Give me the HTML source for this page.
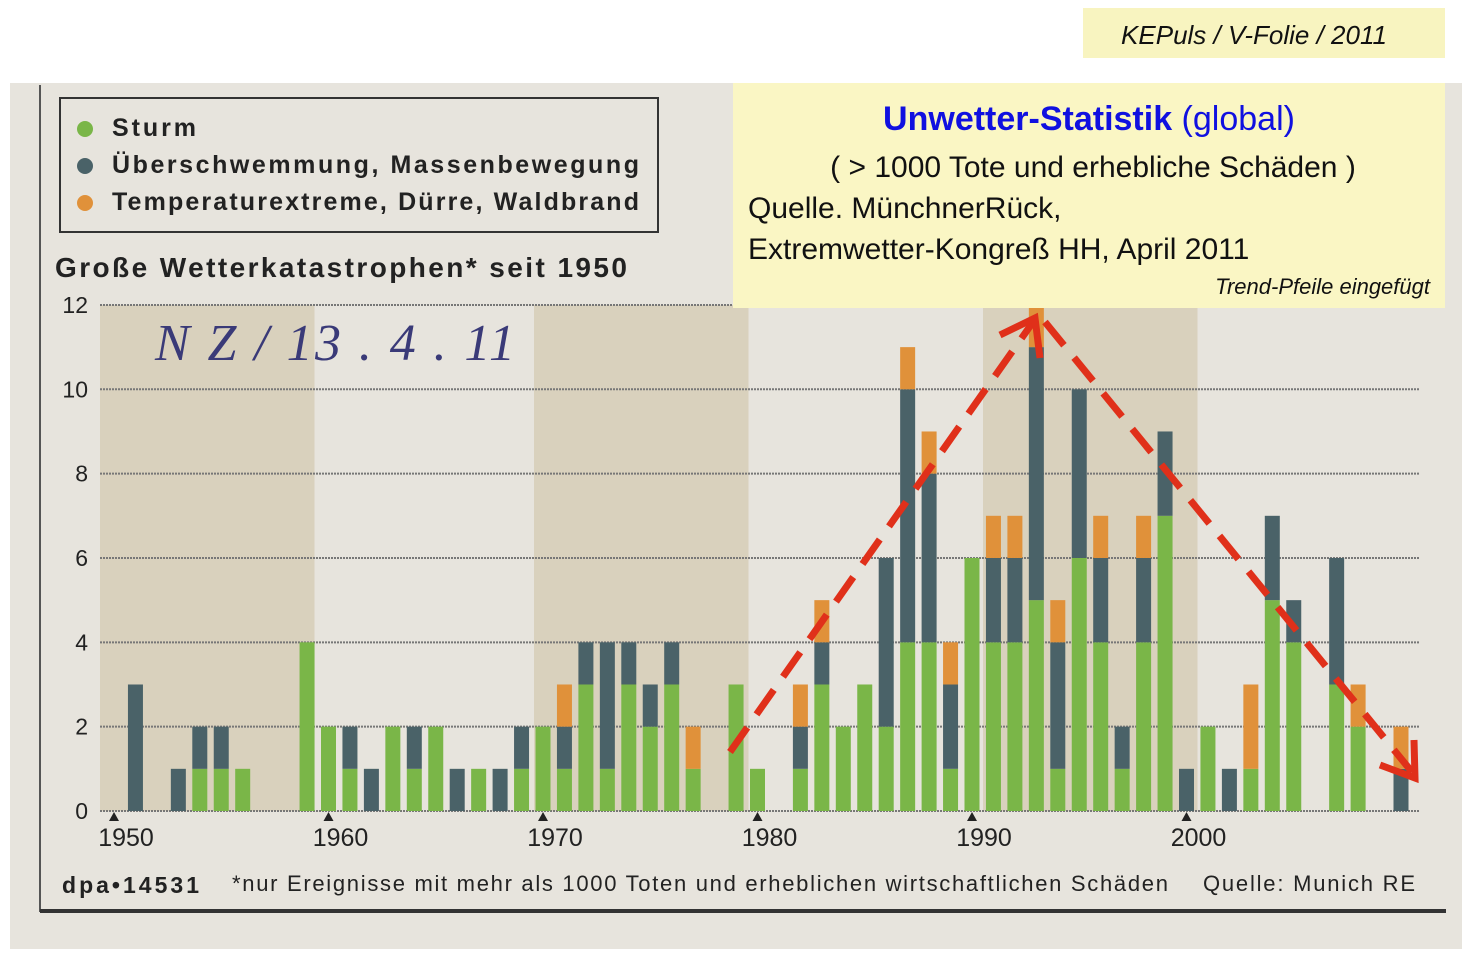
<!DOCTYPE html>
<html><head><meta charset="utf-8"><style>
body{margin:0;width:1467px;height:961px;background:#fff;overflow:hidden;font-family:"Liberation Sans",sans-serif;position:relative}
.abs{position:absolute}
</style></head><body>
<div class="abs" style="left:1083px;top:8px;width:362px;height:50px;background:#f8f4c0;font-style:italic;font-size:26px;line-height:54px;text-align:center;color:#111;text-indent:-20px">KEPuls / V-Folie / 2011</div>
<svg class="abs" style="left:0;top:0" width="1467" height="961">
<rect x="10" y="83" width="1452" height="866" fill="#e7e4dd"/>
<g id="bands"></g>
<g id="grid"></g>
<line x1="40" y1="85" x2="40" y2="912" stroke="#555" stroke-width="2"/>
<line x1="40" y1="911" x2="1446" y2="911" stroke="#333" stroke-width="4"/>
<g>
<rect x="60" y="98" width="598" height="134" fill="none" stroke="#333" stroke-width="2"/>
<circle cx="85" cy="129" r="8" fill="#7ab648"/><text x="112" y="136" font-size="25" fill="#222" font-weight="bold" textLength="84">Sturm</text>
<circle cx="85" cy="166" r="8" fill="#4a6268"/><text x="112" y="173" font-size="25" fill="#222" font-weight="bold" textLength="527">Überschwemmung, Massenbewegung</text>
<circle cx="85" cy="203" r="8" fill="#e0913a"/><text x="112" y="210" font-size="25" fill="#222" font-weight="bold" textLength="527">Temperaturextreme, Dürre, Waldbrand</text>
</g>
<text x="55" y="277" font-size="28" font-weight="bold" fill="#222" textLength="572">Große Wetterkatastrophen* seit 1950</text>
<g id="bars"></g>
<g id="xaxis"></g>
<text x="155" y="360" font-size="52" font-style="italic" fill="#3a3a78" font-family="Liberation Serif,serif" textLength="360">N Z / 13 . 4 . 11</text>
<text x="62" y="893" font-size="23" font-weight="bold" fill="#222" textLength="137">dpa•14531</text>
<text x="232" y="891" font-size="22" fill="#222" textLength="936">*nur Ereignisse mit mehr als 1000 Toten und erheblichen wirtschaftlichen Schäden</text>
<text x="1203" y="891" font-size="22" fill="#222" textLength="212">Quelle: Munich RE</text>
<rect x="733" y="83" width="712" height="225" fill="#faf6c4"/>
<text x="1089" y="130" font-size="34" text-anchor="middle" fill="#1010e0"><tspan font-weight="bold">Unwetter-Statistik</tspan> (global)</text>
<text x="1093" y="177" font-size="30" text-anchor="middle" fill="#111">( &gt; 1000 Tote und erhebliche Schäden )</text>
<text x="748" y="218" font-size="30" fill="#111">Quelle. MünchnerRück,</text>
<text x="748" y="259" font-size="30" fill="#111">Extremwetter-Kongreß HH, April 2011</text>
<text x="1430" y="294" font-size="22" font-style="italic" text-anchor="end" fill="#111">Trend-Pfeile eingefügt</text>
<g stroke="#e0301a" stroke-width="7" fill="none">
<line x1="730" y1="752" x2="1033" y2="322" stroke-dasharray="30,16"/>
<polyline points="1000,335 1035,318 1040,358"/>
<line x1="1045" y1="322" x2="1412" y2="772" stroke-dasharray="30,16"/>
<polyline points="1380,765 1415,778 1414,740"/>
</g>
</svg>
<script>
const years=[];for(let y=1950;y<=2010;y++)years.push(y);
const sturm=[0,0,0,0,1,1,1,0,0,4,2,1,0,2,1,2,0,1,0,1,2,1,3,1,3,2,3,1,0,3,1,0,1,3,2,3,2,4,4,1,6,4,4,5,1,6,4,1,4,7,0,2,0,1,5,4,0,3,2,0,0];
const flut=[0,3,0,1,1,1,0,0,0,0,0,1,1,0,1,0,1,0,1,1,0,1,1,3,1,1,1,0,0,0,0,0,1,1,0,0,4,6,4,2,0,2,2,6,3,4,2,1,2,2,1,0,1,0,2,1,0,3,0,0,1];
const temp=[0,0,0,0,0,0,0,0,0,0,0,0,0,0,0,0,0,0,0,0,0,1,0,0,0,0,0,1,0,0,0,0,1,1,0,0,0,1,1,1,0,1,1,1,1,0,1,0,1,0,0,0,0,2,0,0,0,0,1,0,1];
const yTicks=[0,2,4,6,8,10,12];
const xTicks=[1950,1960,1970,1980,1990,2000];
const bandDecades=[1950,1970,1990];
const NS="http://www.w3.org/2000/svg";
const X=y=>114+(y-1950)*21.45;
const Y=v=>811-v*42.17;
function mk(t,a,p){const e=document.createElementNS(NS,t);for(const k in a)e.setAttribute(k,a[k]);p.appendChild(e);return e;}
const bands=document.getElementById('bands');
bandDecades.forEach(d=>{const x0=X(d)-14+(d>=1990?25:(d>=1970?5:0));const r=mk('rect',{x:x0,y:Y(12),width:X(d+10)-X(d),height:Y(0)-Y(12),fill:'#d9d1bd'},bands);

});
const grid=document.getElementById('grid');
yTicks.forEach(v=>{const l=mk('line',{x1:100,x2:1420,y1:Y(v),y2:Y(v),stroke:'#777','stroke-width':2,'stroke-dasharray':'2,1'},grid);


const t=mk('text',{x:88,y:Y(v)+8,'font-size':23,'text-anchor':'end',fill:'#222'},grid);t.textContent=v;

});
const bars=document.getElementById('bars');
years.forEach((yr,i)=>{const segs=[[sturm[i],'#7ab648'],[flut[i],'#4a6268'],[temp[i],'#e0913a']];let base=0;
segs.forEach(([v,c])=>{if(v>0){const r=mk('rect',{x:X(yr)-7.5,y:Y(base+v),width:15,height:Y(base)-Y(base+v),fill:c},bars);

base+=v;}});});
const xa=document.getElementById('xaxis');
xTicks.forEach(d=>{const p=mk('polygon',{points:`${X(d)-5},${Y(0)+10} ${X(d)+5},${Y(0)+10} ${X(d)},${Y(0)+1}`,fill:'#222'},xa);


const t=mk('text',{x:X(d)+12,y:Y(0)+35,'font-size':25,'text-anchor':'middle',fill:'#222'},xa);t.textContent=d;

});
</script>
</body></html>
